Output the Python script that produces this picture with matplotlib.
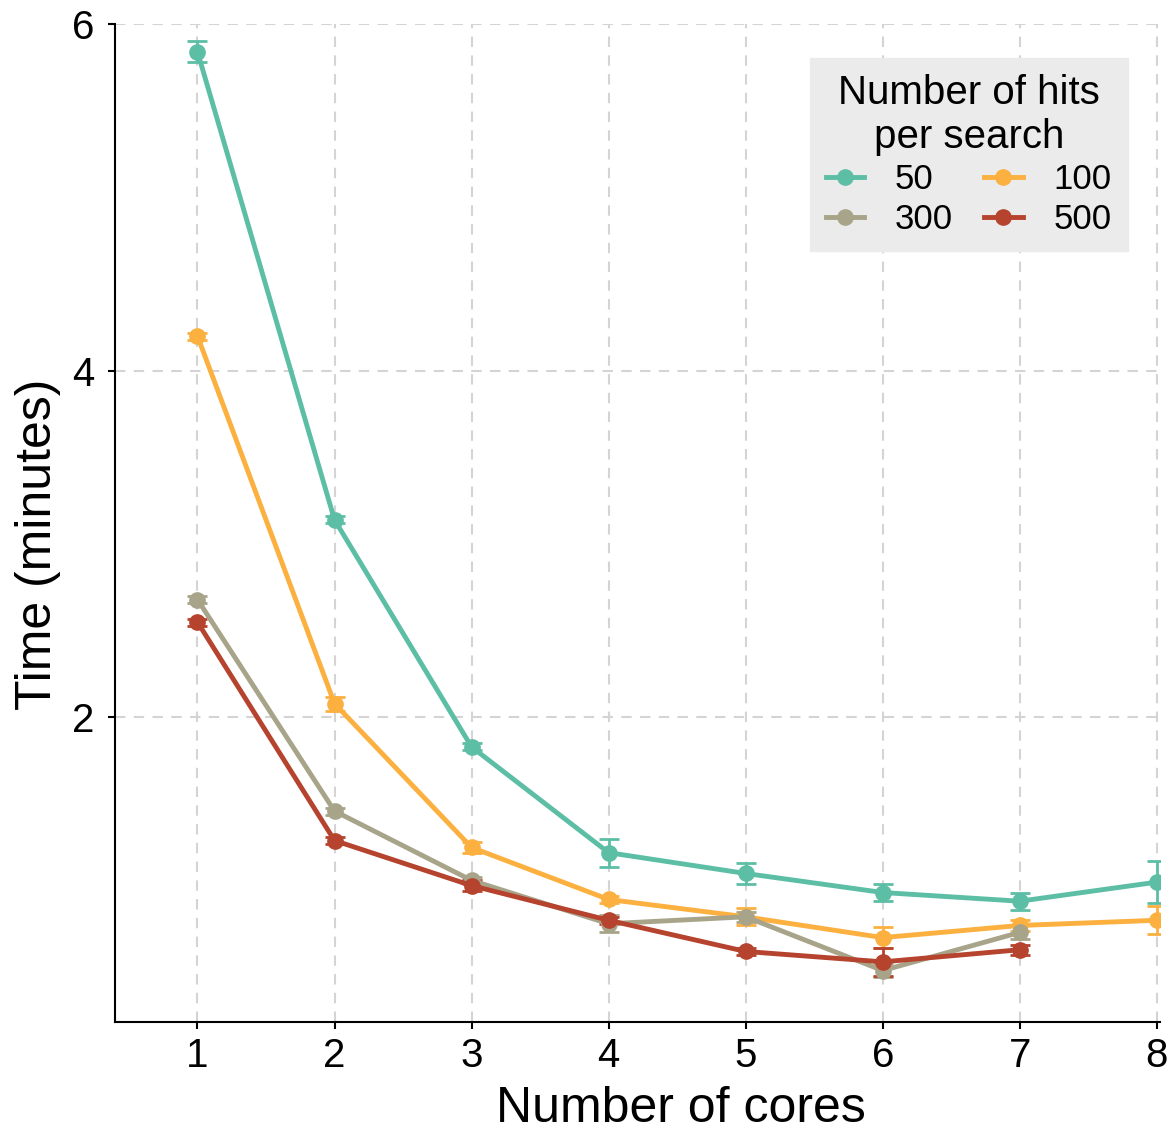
import matplotlib
matplotlib.use("Agg")
import matplotlib.pyplot as plt
from matplotlib.lines import Line2D

plt.rcParams['font.family'] = ['Liberation Sans', 'DejaVu Sans']

cores = [1, 2, 3, 4, 5, 6, 7, 8]

hits_labels = ["50", "100", "300", "500"]
colors = ["#5dbea6", "#fbb040", "#a8a48a", "#b5432e"]

time_50 = [5.84, 3.14, 1.83, 1.22, 1.10, 0.99, 0.94, 1.05]
err_50 = [0.06, 0.02, 0.02, 0.08, 0.06, 0.05, 0.05, 0.12]
time_100 = [4.20, 2.08, 1.25, 0.95, 0.85, 0.73, 0.80, 0.83]
err_100 = [0.02, 0.04, 0.03, 0.02, 0.05, 0.06, 0.03, 0.08]
time_300 = [2.68, 1.46, 1.06, 0.81, 0.85, 0.54, 0.76]
err_300 = [0.02, 0.02, 0.02, 0.05, 0.03, 0.04, 0.04]
time_500 = [2.55, 1.29, 1.03, 0.83, 0.65, 0.59, 0.66]
err_500 = [0.02, 0.02, 0.03, 0.02, 0.02, 0.08, 0.03]

series = [(time_50, err_50), (time_100, err_100), (time_300, err_300), (time_500, err_500)]

fig = plt.figure(figsize=(11.76, 11.39), dpi=100)
ax = fig.add_axes([0.098, 0.1027, 0.888, 0.8762])

for (vals, errs), col in zip(series, colors):
    xs = cores[:len(vals)]
    ax.errorbar(xs, vals, yerr=errs, color=col, lw=3.5, marker='o', markersize=11,
                capsize=7, capthick=2, elinewidth=2, zorder=3)

ax.set_xlim(0.4, 8.02)
ax.set_ylim(0.243, 6.0)
ax.set_xticks(cores)
ax.set_yticks([2, 4, 6])
ax.grid(True, color="#d4d4d4", linestyle=(0, (5, 4)), linewidth=1.5)
ax.set_axisbelow(True)
for s in ["top", "right"]:
    ax.spines[s].set_visible(False)
for s in ["left", "bottom"]:
    ax.spines[s].set_linewidth(1.5)
ax.tick_params(axis='both', labelsize=29, length=5, width=1.5, direction='out')
ax.tick_params(axis='x', pad=6)
ax.tick_params(axis='y', pad=10)
ax.set_xlabel("Number of cores", fontsize=36)
ax.set_ylabel("Time (minutes)", fontsize=36)
ax.xaxis.set_label_coords(0.542, -0.064)
ax.yaxis.set_label_coords(-0.052, 0.479)

# legend: rows 50 100 / 300 500, plain line + dot keys
order = [0, 2, 1, 3]
handles = [Line2D([], [], color=colors[i], lw=3.5, marker='o', markersize=11) for i in order]
leg = ax.legend(handles, [hits_labels[i] for i in order],
                ncol=2, title="Number of hits\nper search", fontsize=25,
                title_fontsize=29, loc='upper right', bbox_to_anchor=(0.986, 0.983),
                frameon=True, fancybox=False, facecolor="#ebebeb", edgecolor="#ebebeb",
                handlelength=1.1, columnspacing=0.9, borderpad=0.45,
                labelspacing=0.2, handletextpad=0.9)
leg.get_title().set_multialignment('center')
leg.get_frame().set_alpha(1)

fig.savefig("out.png", dpi=100)
